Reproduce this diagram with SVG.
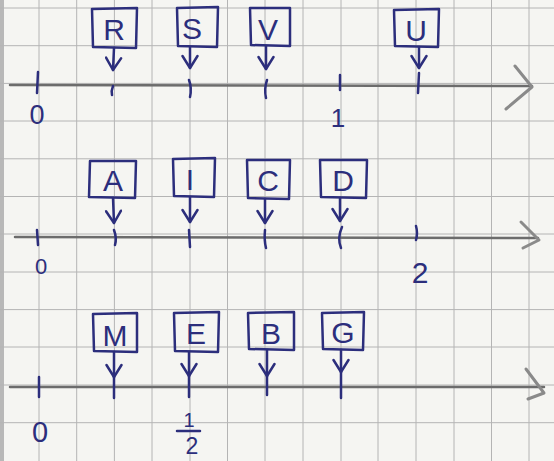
<svg xmlns="http://www.w3.org/2000/svg" width="554" height="461" viewBox="0 0 554 461">
<defs>
<style>
.grid{stroke:#b4b4b4;stroke-width:1;fill:none}
.axis{stroke:#6c6c6c;stroke-width:2.5;fill:none;stroke-linecap:round}
.head{stroke:#8a8a8a;stroke-width:3;fill:none;stroke-linecap:round;stroke-linejoin:round}
.box{stroke:#2c2e7c;stroke-width:2.5;fill:none;stroke-linejoin:round}
.lbl{font-family:"Liberation Sans",Arial,sans-serif;font-size:30px;fill:#2c2e7c;text-anchor:middle}
.num{font-family:"Liberation Sans",Arial,sans-serif;fill:#2c2e7c;text-anchor:middle}
.tick{stroke:#2c2e7c;stroke-width:2.5;fill:none;stroke-linecap:round}
.conn{stroke:#2c2e7c;stroke-width:2.5;fill:none;stroke-linecap:round}
</style>
<marker id="v" viewBox="-14 -9 16 18" refX="0" refY="0" markerWidth="16" markerHeight="18" markerUnits="userSpaceOnUse" orient="auto">
<path d="M-12,-7.5 L0,0 L-12,7.5" fill="none" stroke="#2c2e7c" stroke-width="2.5" stroke-linecap="round" stroke-linejoin="round"/>
</marker>
</defs>
<rect width="554" height="461" fill="#f5f5f2"/>
<rect x="0" y="0" width="4" height="461" fill="#b8b8b8"/>
<g id="grid" class="grid">
<path d="M39,0V461M76.7,0V461M114.4,0V461M152,0V461M190,0V461M227.5,0V461M265,0V461M303,0V461M341,0V461M378,0V461M416,0V461M454,0V461M491.5,0V461M529,0V461"/>
<path d="M0,8H554M0,45.7H554M0,83.4H554M0,121H554M0,158.8H554M0,196.5H554M0,234H554M0,272H554M0,309.6H554M0,347H554M0,385H554M0,422.7H554"/>
</g>
<g id="axes">
<path class="axis" d="M10,85 L532,86"/>
<path class="head" d="M515,66 L532,87 L506,109"/>
<path class="axis" d="M15,237 L538,238"/>
<path class="head" d="M521,222 L539,240 L523,248"/>
<path class="axis" d="M10,387 L544,387"/>
<path class="head" d="M526,369 L544,393 L528,399"/>
</g>
<g id="ticks">
<path class="tick" d="M38,72 L37,93" stroke-width="3.5"/>
<path class="tick" d="M113,86 Q111,91 112,95"/>
<path class="tick" d="M189,80 Q192,88 190,97"/>
<path class="tick" d="M267,80 Q264,89 266,98"/>
<path class="tick" d="M340,75 L340,90"/>
<path class="tick" d="M419,73 L418,93"/>
<path class="tick" d="M37,230 L38,245"/>
<path class="tick" d="M114,230 Q117,238 115,245"/>
<path class="tick" d="M189,230 L190,247"/>
<path class="tick" d="M265,230 Q264,240 266,248"/>
<path class="tick" d="M342,227 Q337,238 341,248"/>
<path class="tick" d="M416,226 Q418,233 416,240"/>
<path class="tick" d="M39,377 L39,397" stroke-width="3"/>
<path class="tick" d="M114,376 L114,398"/>
<path class="tick" d="M189,376 L189,397"/>
<path class="tick" d="M267,376 L267,395"/>
<path class="tick" d="M341,372 L341,398" stroke-width="3"/>
</g>
<g id="numbers">
<text class="num" x="37" y="124" font-size="27">0</text>
<text class="num" x="338" y="127" font-size="26">1</text>
<text class="num" x="41" y="274" font-size="22">0</text>
<text class="num" x="420" y="283" font-size="30">2</text>
<text class="num" x="40" y="442" font-size="29">0</text>
<text class="num" x="189" y="427" font-size="20">1</text>
<path class="tick" d="M177,431 L200,431" stroke-width="2"/>
<text class="num" x="192" y="454" font-size="23">2</text>
</g>
<g id="node-R"><path class="box" d="M92,9 L137,8 L136,48 L93,47 Z"/><text class="lbl" x="114" y="40">R</text></g>
<g id="node-S"><path class="box" d="M177,8 L218,7 L217,47 L178,46 Z"/><text class="lbl" x="192" y="39">S</text></g>
<g id="node-V"><path class="box" d="M250,8 L290,8 L290,46 L251,45 Z"/><text class="lbl" x="268" y="40">V</text></g>
<g id="node-U"><path class="box" d="M394,10 L439,9 L438,47 L395,46 Z"/><text class="lbl" x="416" y="41">U</text></g>
<g id="node-A"><path class="box" d="M90,161 L136,161 L135,198 L89,197 Z"/><text class="lbl" x="113" y="191">A</text></g>
<g id="node-I"><path class="box" d="M173,159 L215,158 L214,197 L174,196 Z"/><text class="lbl" x="190" y="190">I</text></g>
<g id="node-C"><path class="box" d="M247,160 L290,160 L289,199 L248,198 Z"/><text class="lbl" x="268" y="191">C</text></g>
<g id="node-D"><path class="box" d="M320,160 L367,160 L366,198 L321,197 Z"/><text class="lbl" x="343" y="191">D</text></g>
<g id="node-M"><path class="box" d="M93,314 L137,313 L137,352 L94,351 Z"/><text class="lbl" x="115" y="346">M</text></g>
<g id="node-E"><path class="box" d="M174,313 L219,312 L218,352 L175,351 Z"/><text class="lbl" x="196" y="344">E</text></g>
<g id="node-B"><path class="box" d="M248,313 L294,312 L294,350 L249,349 Z"/><text class="lbl" x="271" y="344">B</text></g>
<g id="node-G"><path class="box" d="M322,313 L364,312 L363,350 L323,349 Z"/><text class="lbl" x="343" y="343">G</text></g>
<g id="connectors">
<path class="conn" d="M114,48 L113,70" marker-end="url(#v)"/>
<path class="conn" d="M190,47 L190,68" marker-end="url(#v)"/>
<path class="conn" d="M266,46 L266,69" marker-end="url(#v)"/>
<path class="conn" d="M419,47 L419,68" marker-end="url(#v)"/>
<path class="conn" d="M113,198 L114,223" marker-end="url(#v)"/>
<path class="conn" d="M190,197 L190,222" marker-end="url(#v)"/>
<path class="conn" d="M265,199 L265,223" marker-end="url(#v)"/>
<path class="conn" d="M340,198 L340,221" marker-end="url(#v)"/>
<path class="conn" d="M114,352 L114,377" marker-end="url(#v)"/>
<path class="conn" d="M189,352 L189,376" marker-end="url(#v)"/>
<path class="conn" d="M267,350 L267,376" marker-end="url(#v)"/>
<path class="conn" d="M341,350 L341,372" marker-end="url(#v)"/>
</g>
</svg>
